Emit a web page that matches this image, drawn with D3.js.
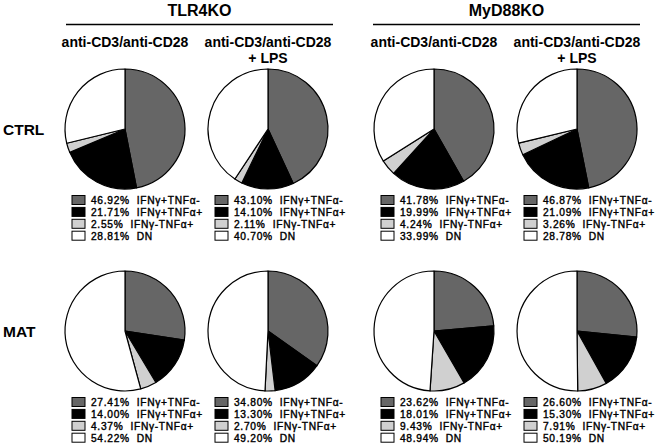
<!DOCTYPE html>
<html>
<head>
<meta charset="utf-8">
<script src="https://cdn.jsdelivr.net/npm/d3@7/dist/d3.min.js"></script>
<style>
  body { margin: 0; background: #fff; }
  text { font-family: "Liberation Sans", Arial, sans-serif; fill: #000; }
</style>
</head>
<body>
<svg id="chart" width="661" height="446"></svg>
<script>
var groups = ["TLR4KO", "MyD88KO"];
var conditions = [["anti-CD3/anti-CD28"], ["anti-CD3/anti-CD28", "+ LPS"]];
var rowNames = ["CTRL", "MAT"];
var categories = ["IFN\u03b3+TNF\u03b1-", "IFN\u03b3+TNF\u03b1+", "IFN\u03b3-TNF\u03b1+", "DN"];
var colors = ["#666666", "#000000", "#d0d0d0", "#ffffff"];

// one array per row, panels in order TLR4KO, TLR4KO+LPS, MyD88KO, MyD88KO+LPS
var ctrlValues = [
    [46.92, 21.71, 2.55, 28.81],
    [43.10, 14.10, 2.11, 40.70],
    [41.78, 19.99, 4.24, 33.99],
    [46.87, 21.09, 3.26, 28.78]
];
var matValues = [
    [27.41, 14.00, 4.37, 54.22],
    [34.80, 13.30, 2.70, 49.20],
    [23.62, 18.01, 9.43, 48.94],
    [26.60, 15.30, 7.91, 50.19]
];

var colX = [125, 268, 434, 577],
    rowY = [129, 331],
    radius = 60;

var svg = d3.select("#chart");

var pie = d3.pie().sort(null).value(function (d) { return d; });
var arc = d3.arc().innerRadius(0).outerRadius(radius);
var fmt = d3.format(".2f");

// group headers with underline
var groupSpan = [[66, 333], [373, 640]];
groups.forEach(function (g, i) {
    var x0 = groupSpan[i][0], x1 = groupSpan[i][1];
    svg.append("text")
        .attr("x", (x0 + x1) / 2)
        .attr("y", 16)
        .attr("text-anchor", "middle")
        .style("font-size", "16px")
        .style("font-weight", "bold")
        .text(g);
    svg.append("line")
        .attr("x1", x0).attr("x2", x1)
        .attr("y1", 24.5).attr("y2", 24.5)
        .attr("stroke", "#000")
        .attr("stroke-width", 1.5);
});

// condition sub headers
colX.forEach(function (cx, i) {
    var lines = conditions[i % 2];
    lines.forEach(function (l, j) {
        svg.append("text")
            .attr("x", cx)
            .attr("y", 46.5 + j * 16.5)
            .attr("text-anchor", "middle")
            .style("font-size", "14px")
            .style("font-weight", "bold")
            .text(l);
    });
});

// row labels
rowNames.forEach(function (r, i) {
    svg.append("text")
        .attr("x", 3)
        .attr("y", rowY[i] + 6)
        .style("font-size", "15.5px")
        .style("font-weight", "bold")
        .text(r);
});

function drawPanel(values, cx, cy) {
    var g = svg.append("g").attr("transform", "translate(" + cx + "," + cy + ")");

    g.selectAll("path")
        .data(pie(values))
        .enter().append("path")
        .attr("d", arc)
        .attr("fill", function (d, i) { return colors[i]; })
        .attr("stroke", "#000")
        .attr("stroke-width", 1.2)
        .attr("stroke-linejoin", "round");

    var leg = g.append("g").attr("transform", "translate(-53," + 71 + ")");
    var rows = leg.selectAll("g")
        .data(values)
        .enter().append("g")
        .attr("transform", function (d, i) { return "translate(0," + (i * 11.9) + ")"; });

    rows.append("rect")
        .attr("x", 0).attr("y", -4.5)
        .attr("width", 13).attr("height", 9)
        .attr("fill", function (d, i) { return colors[i]; })
        .attr("stroke", "#000")
        .attr("stroke-width", 1);

    // a thin stroke makes the small text as heavy as in the scan
    rows.append("text")
        .attr("x", 19)
        .attr("y", 3.8)
        .style("font-size", "10.2px")
        .style("letter-spacing", "0.7px")
        .style("white-space", "pre")
        .style("stroke", "#000")
        .style("stroke-width", "0.4px")
        .text(function (d, i) { return fmt(d) + "%  " + categories[i]; });
}

ctrlValues.forEach(function (v, i) { drawPanel(v, colX[i], rowY[0]); });
matValues.forEach(function (v, i) { drawPanel(v, colX[i], rowY[1]); });
</script>
</body>
</html>
